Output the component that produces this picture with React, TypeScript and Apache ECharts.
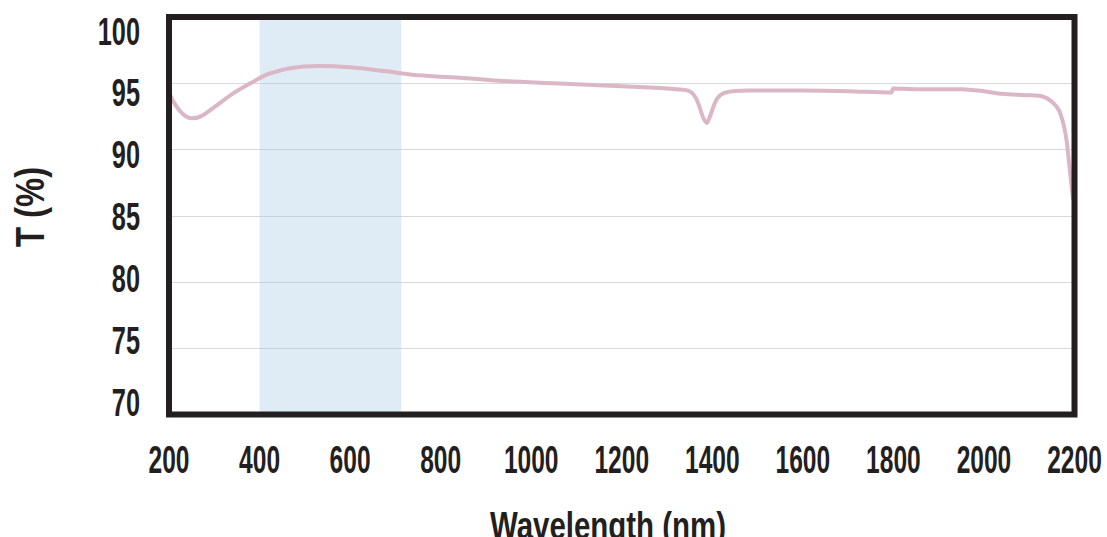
import React, { useEffect, useRef } from "react";
import * as echarts from "echarts";

const wavelengths = [
  200, 210, 230, 250, 270, 300, 340, 380, 420, 470, 530, 600, 680, 750, 850, 950,
  1050, 1150, 1250, 1320, 1350, 1365, 1380, 1388, 1395, 1410, 1430, 1480, 1600,
  1700, 1795, 1800, 1850, 1950, 2000, 2040, 2100, 2130, 2150, 2165, 2175, 2182,
  2188, 2193, 2197,
];
const transmission = [
  94.3, 93.6, 92.7, 92.35, 92.5, 93.2, 94.2, 95.0, 95.7, 96.15, 96.3, 96.2, 95.9,
  95.6, 95.4, 95.15, 95.0, 94.85, 94.7, 94.55, 94.4, 93.8, 92.4, 92.0, 92.5, 93.8,
  94.3, 94.45, 94.45, 94.4, 94.3, 94.6, 94.55, 94.55, 94.4, 94.2, 94.1, 94.0, 93.6,
  93.0, 92.0, 90.8, 89.0, 87.4, 86.2,
];
const xTicks = [200, 400, 600, 800, 1000, 1200, 1400, 1600, 1800, 2000, 2200];
const yTicks = [70, 75, 80, 85, 90, 95, 100];
const bandRange = [400, 713];
const xName = "Wavelength (nm)";
const yName = "T (%)";

export default function App() {
  const ref = useRef<HTMLDivElement>(null);
  useEffect(() => {
    document.body.style.margin = "0";
    const chart = echarts.init(ref.current!, null, { renderer: "svg" });
    const font = "'Liberation Sans', Arial, sans-serif";
    const ink = "#231f20";
    const left = 169;
    const top = 17;
    const right = 32.5;
    const bottom = 122.5;
    const w = 1107 - left - right;
    const h = 537 - top - bottom;
    chart.setOption({
      animation: false,
      grid: { left, top, right, bottom, show: false, containLabel: false, outerBoundsMode: "none" },
      xAxis: {
        type: "value",
        min: xTicks[0],
        max: xTicks[xTicks.length - 1],
        interval: 200,
        axisLine: { show: false },
        axisTick: { show: false },
        splitLine: { show: false },
        axisLabel: { show: false },
      },
      yAxis: [
        {
          type: "value",
          min: yTicks[0],
          max: yTicks[yTicks.length - 1],
          interval: 5,
          axisLine: { show: false },
          axisTick: { show: false },
          axisLabel: { show: false },
          splitLine: { show: true, lineStyle: { color: "#d9d9d9", width: 1.2 } },
        },
        {
          type: "value",
          position: "left",
          min: 69.0,
          max: 101.13,
          axisLine: { show: false },
          axisTick: { show: false },
          splitLine: { show: false },
          axisLabel: { show: false },
        },
      ],
      series: [
        {
          type: "line",
          data: wavelengths.map((x, i) => [x, transmission[i]]),
          showSymbol: false,
          smooth: 0.3,
          lineStyle: { color: "#dbb7c5", width: 4 },
          markArea: {
            silent: true,
            itemStyle: { color: "rgba(160,198,228,0.34)" },
            data: [[{ xAxis: bandRange[0] }, { xAxis: bandRange[1] }]],
          },
        },
      ],
    });

    const labelFont = { fontFamily: font, fontSize: 39, fontWeight: "bold" as const, fill: ink };
    const graphics: any[] = [
      {
        type: "rect",
        z: 100,
        silent: true,
        shape: { x: left, y: top, width: w, height: h },
        style: { fill: "none", stroke: ink, lineWidth: 6 },
      },
    ];
    xTicks.forEach((v) => {
      const px = chart.convertToPixel({ xAxisIndex: 0 }, v) as number;
      graphics.push({
        type: "text",
        x: px,
        y: 459,
        scaleX: 0.63,
        silent: true,
        style: { text: String(v), ...labelFont, align: "center", verticalAlign: "middle" },
      });
    });
    yTicks.forEach((v) => {
      const py = chart.convertToPixel({ yAxisIndex: 1 }, v) as number;
      graphics.push({
        type: "text",
        x: 140,
        y: py,
        scaleX: 0.65,
        silent: true,
        style: { text: String(v), ...labelFont, align: "right", verticalAlign: "middle" },
      });
    });
    graphics.push({
      type: "text",
      x: 30,
      y: 207,
      rotation: Math.PI / 2,
      scaleX: 0.82,
      silent: true,
      style: {
        text: yName,
        fontFamily: font,
        fontSize: 40,
        fontWeight: "bold",
        fill: ink,
        align: "center",
        verticalAlign: "middle",
      },
    });
    graphics.push({
      type: "text",
      x: 608,
      y: 526,
      scaleX: 0.775,
      silent: true,
      style: {
        text: xName,
        fontFamily: font,
        fontSize: 38,
        fontWeight: "bold",
        fill: ink,
        align: "center",
        verticalAlign: "middle",
      },
    });
    chart.setOption({ graphic: graphics });
    return () => chart.dispose();
  }, []);
  return <div ref={ref} style={{ width: 1107, height: 537 }} />;
}
